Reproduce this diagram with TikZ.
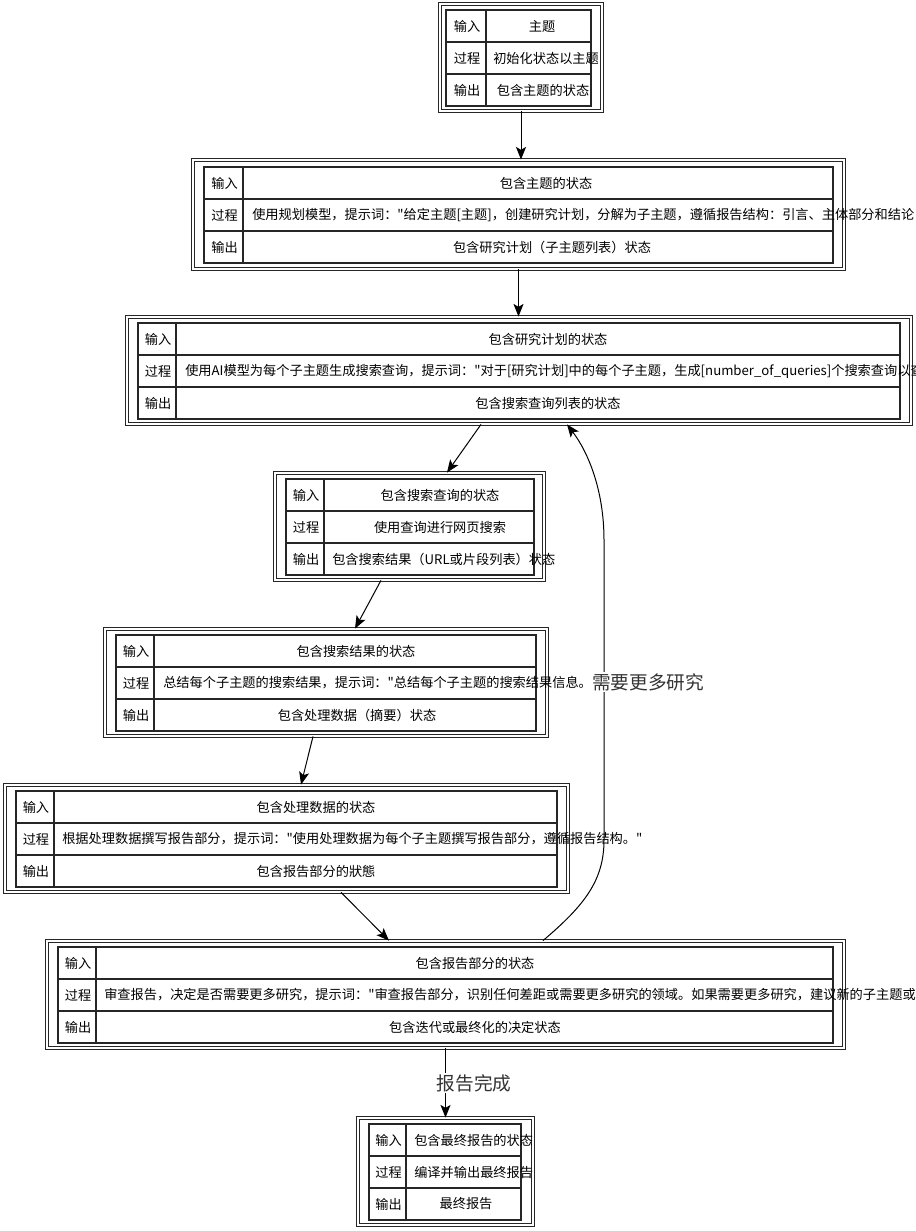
\documentclass[tikz,border=0pt]{standalone}
\usepackage{fontspec}
\setmainfont{Noto Sans CJK SC}[Ligatures=TeXOff]
\newfontfamily\labfont{Noto Sans CJK SC}[Ligatures=TeXOff]
\usetikzlibrary{arrows.meta,fit}
\tikzset{
  outerbox/.style={draw=black!85, double=white, double distance=1.3pt, line width=0.6pt, inner sep=0pt},
  tbl/.style={draw=black!85, line width=1.1pt},
  cell/.style={inner sep=0pt, font=\fontsize{9.9pt}{12pt}\selectfont, text=black},
  lab/.style={inner sep=1pt, fill=white, font=\labfont\fontsize{14pt}{16pt}\selectfont, text=black!80},
  arr/.style={draw=black, line width=0.75pt, -{Stealth[length=9.5pt,width=7.5pt,inset=2.2pt]}},
}
\newcommand\gridtab[5]{%
  \draw[tbl] (#1,#2) rectangle (#3,#4);
  \draw[tbl] (#5,#2) -- (#5,#4);
  \pgfmathsetmacro\rowa{#2+(#4-#2)/3}%
  \pgfmathsetmacro\rowb{#2+2*(#4-#2)/3}%
  \draw[tbl] (#1,\rowa) -- (#3,\rowa) (#1,\rowb) -- (#3,\rowb);}
\begin{document}
\begin{tikzpicture}[x=0.75pt,y=-0.75pt]
\useasboundingbox (0,0) rectangle (916,1231);
% outer containers
\node[outerbox, fit={(440,4)(602,111)}] (b1) {};
\node[outerbox, fit={(193,160)(844,269)}] (b2) {};
\node[outerbox, fit={(127,317)(911,424)}] (b3) {};
\node[outerbox, fit={(275,473)(544,580)}] (b4) {};
\node[outerbox, fit={(105,629)(547,736)}] (b5) {};
\node[outerbox, fit={(5,785)(568,892)}] (b6) {};
\node[outerbox, fit={(47,941)(844,1048)}] (b7) {};
\node[outerbox, fit={(358,1118)(533,1225)}] (b8) {};
% tables
\gridtab{446}{10}{591}{106}{486}
\gridtab{204}{167}{833}{263}{243}
\gridtab{138}{323}{900}{419}{176}
\gridtab{286}{479}{534}{575}{324}
\gridtab{116}{635}{536}{731}{154}
\gridtab{16}{791}{557}{887}{54}
\gridtab{58}{947}{833}{1043}{96}
\gridtab{369}{1124}{521}{1220}{406}
% box 1
\node[cell] (t1a) at (467,26) {输入};
\node[cell] (t1b) at (467,58) {过程};
\node[cell] (t1c) at (467,90) {输出};
\node[cell] (t1d) at (542,26) {主题};
\node[cell, anchor=west] (t1e) at (493,58) {初始化状态以主题};
\node[cell] (t1f) at (543,90) {包含主题的状态};
% box 2
\node[cell] (t2a) at (224.5,183) {输入};
\node[cell] (t2b) at (224.5,215) {过程};
\node[cell] (t2c) at (224.5,247) {输出};
\node[cell] (t2d) at (546,183) {包含主题的状态};
\node[cell, anchor=west] (t2e) at (252,215) {使用规划模型，提示词："给定主题[主题]，创建研究计划，分解为子主题，遵循报告结构：引言、主体部分和结论};
\node[cell] (t2f) at (552,247) {包含研究计划（子主题列表）状态};
% box 3
\node[cell] (t3a) at (158,339) {输入};
\node[cell] (t3b) at (158,371) {过程};
\node[cell] (t3c) at (158,403) {输出};
\node[cell] (t3d) at (548,339) {包含研究计划的状态};
\node[cell, anchor=west] (t3e) at (185,371) {使用AI模型为每个子主题生成搜索查询，提示词："对于[研究计划]中的每个子主题，生成[number\_of\_queries]个搜索查询以查};
\node[cell] (t3f) at (548,403) {包含搜索查询列表的状态};
% box 4
\node[cell] (t4a) at (306,495) {输入};
\node[cell] (t4b) at (306,527) {过程};
\node[cell] (t4c) at (306,559) {输出};
\node[cell] (t4d) at (440,495) {包含搜索查询的状态};
\node[cell] (t4e) at (440,527) {使用查询进行网页搜索};
\node[cell, anchor=west] (t4f) at (332,559) {包含搜索结果（URL或片段列表）状态};
% box 5
\node[cell] (t5a) at (136,651) {输入};
\node[cell] (t5b) at (136,683) {过程};
\node[cell] (t5c) at (136,715) {输出};
\node[cell] (t5d) at (356,651) {包含搜索结果的状态};
\node[cell, anchor=west] (t5e) at (163,683) {总结每个子主题的搜索结果，提示词："总结每个子主题的搜索结果信息。};
\node[cell] (t5f) at (357,715) {包含处理数据（摘要）状态};
% box 6
\node[cell] (t6a) at (36,807) {输入};
\node[cell] (t6b) at (36,839) {过程};
\node[cell] (t6c) at (36,871) {输出};
\node[cell] (t6d) at (316,807) {包含处理数据的状态};
\node[cell, anchor=west] (t6e) at (62,839) {根据处理数据撰写报告部分，提示词："使用处理数据为每个子主题撰写报告部分，遵循报告结构。"};
\node[cell] (t6f) at (316,871) {包含报告部分的狀態};
% box 7
\node[cell] (t7a) at (78,963) {输入};
\node[cell] (t7b) at (78,995) {过程};
\node[cell] (t7c) at (78,1027) {输出};
\node[cell] (t7d) at (475,963) {包含报告部分的状态};
\node[cell, anchor=west] (t7e) at (104,995) {审查报告，决定是否需要更多研究，提示词："审查报告部分，识别任何差距或需要更多研究的领域。如果需要更多研究，建议新的子主题或};
\node[cell] (t7f) at (475,1027) {包含迭代或最终化的决定状态};
% box 8
\node[cell] (t8a) at (388.5,1140) {输入};
\node[cell] (t8b) at (388.5,1172) {过程};
\node[cell] (t8c) at (388.5,1204) {输出};
\node[cell, anchor=west] (t8d) at (414,1140) {包含最终报告的状态};
\node[cell, anchor=west] (t8e) at (414,1172) {编译并输出最终报告};
\node[cell] (t8f) at (466,1204) {最终报告};
% connectors
\draw[arr] (b1.south) -- (b1.south |- b2.north);
\draw[arr] (b2.south) -- (b2.south |- b3.north);
\draw[arr] ([xshift=-28.5pt]b3.south) -- ([xshift=28.1pt]b4.north);
\draw[arr] ([xshift=-21.4pt]b4.south) -- ([xshift=21.75pt]b5.north);
\draw[arr] ([xshift=-9.75pt]b5.south) -- ([xshift=10.9pt]b6.north);
\draw[arr] ([xshift=40.9pt]b6.south) -- ([xshift=-42.4pt]b7.north);
\draw[arr] (b7.south) -- (b8.north);
\draw[arr] ([xshift=73.1pt]b7.north) .. controls (585,905) and (604,880) .. (604,840) -- (604,540) .. controls (604,490) and (588,452) .. ([xshift=36pt]b3.south);
% edge labels
\node[lab] (l1) at (648,682) {需要更多研究};
\node[lab] (l2) at (474,1083) {报告完成};
\end{tikzpicture}
\end{document}
